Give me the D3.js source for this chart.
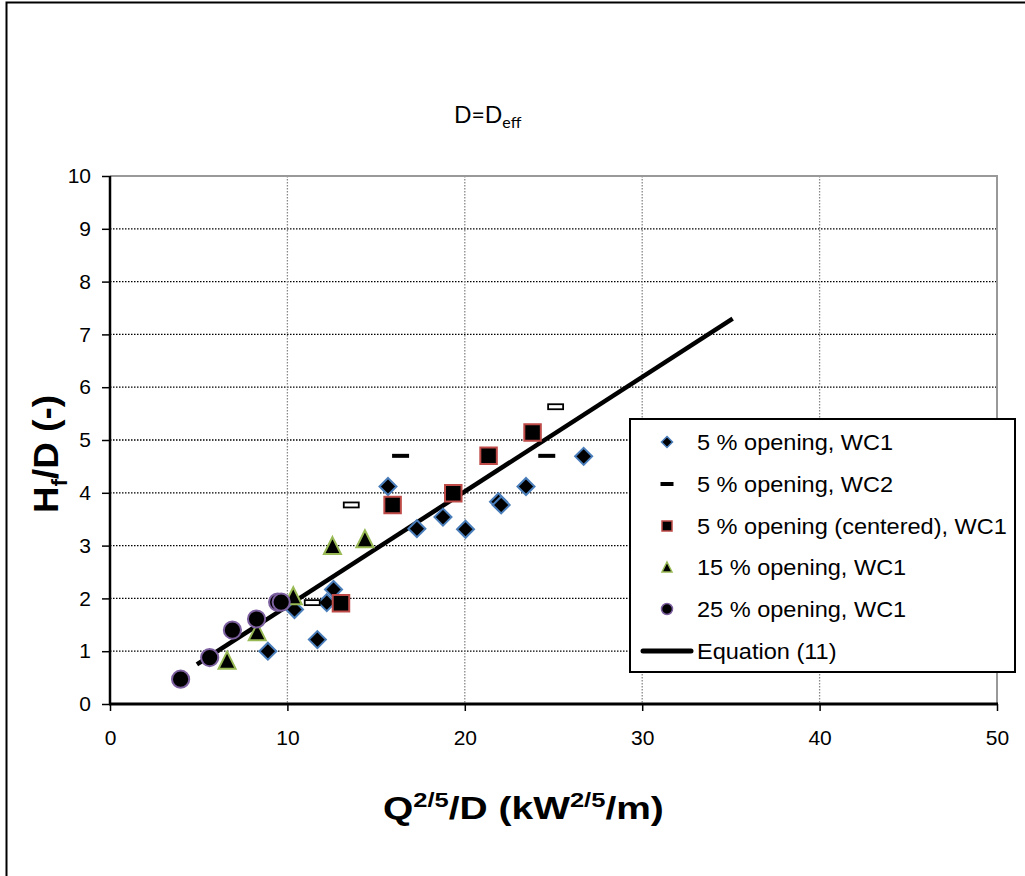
<!DOCTYPE html>
<html>
<head>
<meta charset="utf-8">
<script src="https://cdn.jsdelivr.net/npm/d3@7"></script>
<style>
  html, body { margin: 0; padding: 0; background: #fff; }
  svg { display: block; }
</style>
</head>
<body>
<svg id="chart" width="1025" height="876"></svg>
<script>
// ---- Data ----
const xTicks = [0, 10, 20, 30, 40, 50];
const yTicks = [0, 1, 2, 3, 4, 5, 6, 7, 8, 9, 10];

const wc1_5_x = [8.9, 10.4, 11.69, 12.22, 12.6, 15.67, 17.3, 18.77, 20.04, 21.9, 22.05, 23.45, 26.7];
const wc1_5_y = [1.0, 1.79, 1.22, 1.92, 2.17, 4.12, 3.32, 3.54, 3.31, 3.83, 3.77, 4.12, 4.69];

const wc2_5_x = [11.4, 13.6, 16.38, 24.62, 25.12];
const wc2_5_y = [1.92, 3.77, 4.7, 4.7, 5.63];

const cent_5_x = [13.02, 15.93, 19.35, 21.34, 23.82];
const cent_5_y = [1.91, 3.77, 3.99, 4.7, 5.14];

const wc1_15_x = [6.6, 8.3, 10.33, 12.54, 14.37];
const wc1_15_y = [0.83, 1.37, 2.05, 3.0, 3.13];

const wc1_25_x = [3.98, 5.62, 6.9, 8.26, 9.45, 9.65];
const wc1_25_y = [0.47, 0.88, 1.4, 1.61, 1.93, 1.93];

const eqX = [4.9, 35.1];
const eqY = [0.75, 7.3];

const legendLabels = [
  "5 % opening, WC1",
  "5 % opening, WC2",
  "5 % opening (centered), WC1",
  "15 % opening, WC1",
  "25 % opening, WC1",
  "Equation (11)"
];

// ---- Layout ----
const svg = d3.select("#chart");
const L = 110, R = 997, T = 176, B = 704;
const x = d3.scaleLinear().domain([0, 50]).range([L, R]);
const y = d3.scaleLinear().domain([0, 10]).range([B, T]);
const FONT = "'Liberation Sans', Arial, sans-serif";

// outer chart border (only top and left visible)
svg.append("rect").attr("x", 6.5).attr("y", 2.5).attr("width", 1040).attr("height", 900)
  .attr("fill", "none").attr("stroke", "#000").attr("stroke-width", 2);

// gridlines
const grid = svg.append("g");
grid.selectAll("line.h").data(yTicks.filter(d => d > 0 && d < 10)).enter().append("line")
  .attr("x1", L).attr("x2", R).attr("y1", d => y(d)).attr("y2", d => y(d))
  .attr("stroke", "#000").attr("stroke-width", 1.3).attr("stroke-dasharray", "1.5,1.5");
grid.selectAll("line.v").data(xTicks.filter(d => d > 0 && d < 50)).enter().append("line")
  .attr("y1", T).attr("y2", B).attr("x1", d => x(d)).attr("x2", d => x(d))
  .attr("stroke", "#888").attr("stroke-width", 1.3).attr("stroke-dasharray", "1.5,1.5");
grid.append("path")
  .attr("d", `M${L},${y(10)}H${x(50)}V${B}`)
  .attr("fill", "none").attr("stroke", "#999").attr("stroke-width", 2);

// axes
const xAxis = svg.append("g").attr("transform", `translate(0,${B})`)
  .call(d3.axisBottom(x).tickValues(xTicks).tickSize(7).tickPadding(19).tickFormat(d3.format("d")));
const yAxis = svg.append("g").attr("transform", `translate(${L},0)`)
  .call(d3.axisLeft(y).tickValues(yTicks).tickSize(8).tickPadding(11).tickFormat(d3.format("d")));
[xAxis, yAxis].forEach(a => {
  a.select(".domain").remove();
  a.selectAll(".tick line").attr("stroke", "#000").attr("stroke-width", 1.5);
  a.selectAll(".tick text").attr("font-family", FONT).attr("font-size", 21).attr("fill", "#000");
});
svg.append("line").attr("x1", L).attr("x2", L).attr("y1", T).attr("y2", B)
  .attr("stroke", "#000").attr("stroke-width", 2.5);
svg.append("line").attr("x1", L - 1).attr("x2", R + 1).attr("y1", B).attr("y2", B)
  .attr("stroke", "#000").attr("stroke-width", 3);

// ---- Equation line ----
const eqData = eqX.map((v, i) => [v, eqY[i]]);
svg.append("path").datum(eqData)
  .attr("d", d3.line().x(d => x(d[0])).y(d => y(d[1])))
  .attr("stroke", "#000").attr("stroke-width", 4.5).attr("fill", "none");

// ---- marker shapes ----
const zip = (xs, ys) => xs.map((v, i) => [v, ys[i]]);
const COL = { blue: "#4a7ebb", red: "#be4b48", green: "#98b954", purple: "#7d60a0" };
const shape = {
  diamond: r => `M0,${-r}L${r},0L0,${r}L${-r},0Z`,
  square: s => `M${-s/2},${-s/2}h${s}v${s}h${-s}Z`,
  triangle: s => `M0,${-s/2}L${s/2},${s/2}L${-s/2},${s/2}Z`,
  circle: r => `M${r},0A${r},${r},0,1,1,${-r},0A${r},${r},0,1,1,${r},0Z`
};

function drawShape(g, data, d, stroke, sw) {
  g.selectAll(null).data(data).enter().append("path")
    .attr("transform", p => `translate(${x(p[0])},${y(p[1])})`)
    .attr("d", d)
    .attr("fill", "#000").attr("stroke", stroke).attr("stroke-width", sw);
}
const marks = svg.append("g");
drawShape(marks, zip(wc1_5_x, wc1_5_y), shape.diamond(8.5), COL.blue, 2);
const hollowDash = new Set([0, 1, 4]);
marks.selectAll(null).data(zip(wc2_5_x, wc2_5_y)).enter().append("rect")
  .attr("x", (d, i) => x(d[0]) - (hollowDash.has(i) ? 7.5 : 8.5))
  .attr("y", (d, i) => y(d[1]) - (hollowDash.has(i) ? 2.5 : 2))
  .attr("width", (d, i) => hollowDash.has(i) ? 15 : 17)
  .attr("height", (d, i) => hollowDash.has(i) ? 5 : 4)
  .attr("fill", (d, i) => hollowDash.has(i) ? "#fff" : "#000")
  .attr("stroke", "#000").attr("stroke-width", (d, i) => hollowDash.has(i) ? 1.8 : 0);
drawShape(marks, zip(cent_5_x, cent_5_y), shape.square(16.5), COL.red, 2);
drawShape(marks, zip(wc1_15_x, wc1_15_y), shape.triangle(17), COL.green, 2);
drawShape(marks, zip(wc1_25_x, wc1_25_y), shape.circle(8.6), COL.purple, 2);

// ---- Legend ----
const lg = svg.append("g");
lg.append("rect").attr("x", 630).attr("y", 419).attr("width", 385).attr("height", 253)
  .attr("fill", "#fff").attr("stroke", "#000").attr("stroke-width", 2);
const rowY = [442, 484, 526, 567, 609, 651];
const mx = 667;
const legendSym = [
  { d: shape.diamond(5.5), stroke: COL.blue },
  null,
  { d: shape.square(10), stroke: COL.red },
  { d: shape.triangle(10), stroke: COL.green },
  { d: shape.circle(5.5), stroke: COL.purple },
  null
];
legendSym.forEach((s, i) => {
  if (s) {
    lg.append("path").attr("transform", `translate(${mx},${rowY[i]})`)
      .attr("d", s.d).attr("fill", "#000").attr("stroke", s.stroke).attr("stroke-width", 1.5);
  }
});
lg.append("rect").attr("x", mx - 6.5).attr("y", rowY[1] - 2).attr("width", 13).attr("height", 4).attr("fill", "#000");
lg.append("line").attr("x1", 643).attr("x2", 691).attr("y1", rowY[5]).attr("y2", rowY[5])
  .attr("stroke", "#000").attr("stroke-width", 5).attr("stroke-linecap", "round");
lg.selectAll(null).data(legendLabels).enter().append("text")
  .attr("transform", (d, i) => `translate(697,${rowY[i]}) scale(1.07,1)`)
  .attr("dy", "0.36em")
  .attr("font-family", FONT).attr("font-size", 22).attr("fill", "#000")
  .text(d => d);

// ---- Titles ----
const title = svg.append("text").attr("x", 454).attr("y", 123)
  .attr("font-family", "Lato, 'Open Sans', sans-serif").attr("font-size", 23).attr("fill", "#000");
title.append("tspan").text("D=D");
title.append("tspan").attr("font-size", 16).attr("dy", 5).text("eff");

// x-axis title (stretched to the reference width)
const xtG = svg.append("g");
const xt = xtG.append("text").attr("x", 0).attr("y", 0)
  .attr("font-family", FONT).attr("font-weight", "bold").attr("font-size", 32).attr("fill", "#000");
xt.append("tspan").text("Q");
xt.append("tspan").attr("font-size", 21).attr("dy", -12).text("2/5");
xt.append("tspan").attr("dy", 12).text("/D (kW");
xt.append("tspan").attr("font-size", 21).attr("dy", -12).text("2/5");
xt.append("tspan").attr("dy", 12).text("/m)");
const xtw = xt.node().getBBox().width;
xtG.attr("transform", `translate(383,819) scale(${281 / xtw},1)`);

// y-axis title
const ytG = svg.append("g");
const yt = ytG.append("text").attr("x", 0).attr("y", 0)
  .attr("font-family", FONT).attr("font-weight", "bold").attr("font-size", 36).attr("fill", "#000");
yt.append("tspan").text("H");
yt.append("tspan").attr("font-size", 22).attr("dy", 9).text("f");
yt.append("tspan").attr("dy", -9).text("/D (-)");
const ytw = yt.node().getBBox().width;
ytG.attr("transform", `translate(58,513) rotate(-90) scale(${118 / ytw},1)`);
</script>
</body>
</html>
